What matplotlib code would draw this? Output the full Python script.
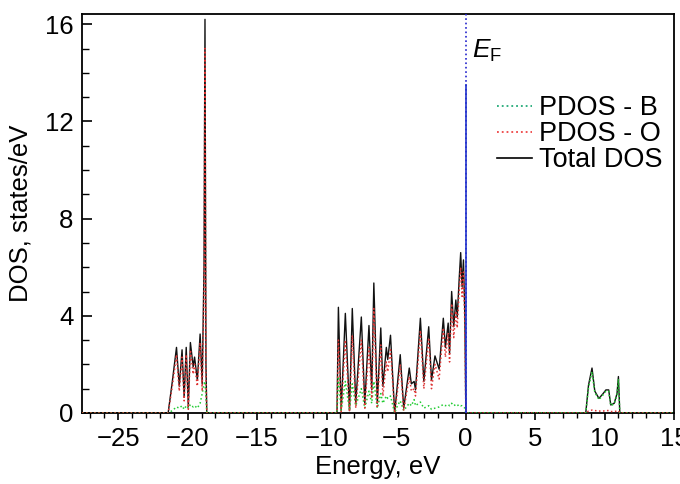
import numpy as np
import matplotlib
matplotlib.use('Agg')
import matplotlib.pyplot as plt

plt.rcParams['font.family'] = ['Liberation Sans', 'DejaVu Sans']
plt.rcParams['mathtext.fontset'] = 'custom'
plt.rcParams['mathtext.rm'] = 'Liberation Sans'
plt.rcParams['mathtext.it'] = 'Liberation Sans:italic'

# Band 1 (O 2s region)
e_band1 = [-21.4, -21.1, -20.8, -20.6, -20.4, -20.25, -20.1, -19.95, -19.8, -19.6,
           -19.5, -19.3, -19.1, -18.95, -18.82, -18.75, -18.68, -18.62]
tot_band1 = [0, 1.3, 2.7, 1.1, 2.6, 0.65, 2.7, 0.25, 2.9, 1.9,
             2.3, 1.35, 3.25, 1.2, 6.0, 16.2, 2.0, 0]
o_band1 = [0, 1.1, 2.4, 0.9, 2.3, 0.5, 2.4, 0.15, 2.6, 1.6,
           2.0, 1.1, 2.9, 0.9, 5.0, 15.0, 1.5, 0]
b_band1 = [0, 0.1, 0.25, 0.2, 0.3, 0.15, 0.3, 0.2, 0.35, 0.25,
           0.3, 0.2, 0.4, 0.8, 1.2, 1.3, 0.6, 0]

# Band 2 (valence band up to E_F)
e_band2 = [-9.25, -9.15, -8.95, -8.65, -8.35, -8.15, -7.9, -7.5, -7.25, -6.95,
           -6.75, -6.6, -6.35, -6.1, -5.95, -5.7, -5.6, -5.4, -5.1, -4.9,
           -4.7, -4.45, -4.05, -3.9, -3.7, -3.6, -3.25, -3.0, -2.65, -2.45,
           -2.2, -1.9, -1.6, -1.45, -1.25, -1.15, -1.0, -0.85, -0.7, -0.6,
           -0.45, -0.35, -0.25, -0.15, -0.05, 0.02]
tot_band2 = [0, 4.35, 0.1, 4.1, 0.1, 4.3, 0.4, 3.95, 0.4, 3.6,
             0.95, 5.35, 0.4, 3.5, 1.1, 2.7, 2.2, 3.2, 0, 1.2,
             2.4, 0.2, 1.85, 1.2, 1.3, 0.95, 3.9, 1.3, 3.55, 1.35,
             2.35, 1.8, 3.9, 2.7, 3.7, 2.45, 5.0, 3.55, 4.65, 3.95,
             5.6, 6.6, 5.2, 6.3, 4.0, 0]
o_band2 = [0, 3.0, 0.05, 3.0, 0.05, 3.2, 0.2, 3.0, 0.2, 2.7,
           0.6, 4.3, 0.2, 2.8, 0.7, 2.1, 1.7, 2.6, 0, 0.9,
           2.0, 0.1, 1.5, 0.9, 1.0, 0.7, 3.4, 1.0, 3.1, 1.0,
           2.0, 1.4, 3.5, 2.3, 3.3, 2.1, 4.5, 3.1, 4.2, 3.5,
           5.1, 6.0, 4.8, 5.8, 3.6, 0]
b_band2 = [0, 1.5, 0.1, 1.3, 0.1, 1.2, 0.3, 1.0, 0.2, 0.9,
           0.4, 1.3, 0.2, 0.8, 0.4, 0.7, 0.6, 0.7, 0, 0.3,
           0.5, 0.1, 0.4, 0.3, 0.55, 0.3, 0.45, 0.2, 0.3, 0.15,
           0.2, 0.25, 0.35, 0.3, 0.35, 0.3, 0.4, 0.3, 0.35, 0.3,
           0.35, 0.3, 0.3, 0.25, 0.2, 0]

# Band 3 (conduction band)
e_band3 = [8.65, 8.85, 9.1, 9.3, 9.6, 9.9, 10.1, 10.3, 10.45, 10.7, 10.9, 11.0, 11.1]
tot_band3 = [0, 1.15, 1.85, 0.9, 0.6, 0.8, 0.95, 0.95, 0.33, 0.4, 0.8, 1.5, 0]
o_band3 = [0, 0.08, 0.12, 0.1, 0.08, 0.08, 0.1, 0.1, 0.06, 0.06, 0.08, 0.1, 0]
b_band3 = [0, 1.05, 1.7, 0.85, 0.55, 0.75, 0.9, 0.9, 0.3, 0.38, 0.75, 1.4, 0]

e_limits = [-27.6, 15.0]
fermi_peak = 13.5


def full_curve(b1, b2, b3):
    e = [e_limits[0]] + e_band1 + e_band2 + e_band3 + [e_limits[1]]
    d = [0] + b1 + b2 + b3 + [0]
    return np.array(e), np.array(d)


fig = plt.figure(figsize=(6.8, 4.84), dpi=100)
ax = fig.add_axes([82 / 680, 71 / 484, 592 / 680, 399 / 484])

e, tot = full_curve(tot_band1, tot_band2, tot_band3)
_, pdos_o = full_curve(o_band1, o_band2, o_band3)
_, pdos_b = full_curve(b_band1, b_band2, b_band3)

ax.plot(e, pdos_b, color='#22cc33', ls=':', lw=1.1, zorder=3)
ax.plot(e, pdos_o, color='#dd3333', ls=':', lw=1.1, zorder=3)
ax.plot(e, tot, color='#111111', lw=1.0, zorder=2)

# Fermi level
ax.axvline(0, color='#2222cc', ls=':', lw=1.2, zorder=4)
ax.plot([0, 0], [0, fermi_peak], color='#2233cc', lw=1.2, zorder=4)
ax.text(0.5, 14.9, r'$E_\mathrm{F}$', fontsize=19, va='center', ha='left')

# legend proxies
hb, = ax.plot([], [], color='#22aa77', ls=':', lw=1.3, label='PDOS - B')
ho, = ax.plot([], [], color='#ee4444', ls=':', lw=1.3, label='PDOS - O')
ht, = ax.plot([], [], color='black', lw=1.2, label='Total DOS')
ax.legend(handles=[hb, ho, ht], loc='upper right', bbox_to_anchor=(0.98, 0.797),
          frameon=False, fontsize=19.5, handlelength=1.3, handletextpad=0.25,
          labelspacing=0.0, borderaxespad=0.0, borderpad=0.0)

ax.set_xlim(e_limits)
ax.set_ylim(0, 16.42)
ax.set_xticks(np.arange(-25, 16, 5))
ax.set_xticks(np.arange(-27, 16, 1), minor=True)
ax.set_yticks([0, 4, 8, 12, 16])
ax.set_yticks(np.arange(0, 17, 1), minor=True)
ax.tick_params(axis='x', which='major', direction='out', length=5, width=1.2,
               labelsize=18.5, pad=5)
ax.tick_params(axis='x', which='minor', direction='out', length=3.5, width=1)
ax.tick_params(axis='y', which='major', direction='in', length=7, width=1.2,
               labelsize=18.5, pad=6)
ax.tick_params(axis='y', which='minor', direction='in', length=5, width=1)
for s in ax.spines.values():
    s.set_linewidth(1.3)

ax.set_xlabel('Energy, eV', fontsize=18.5, labelpad=3)
ax.set_ylabel('DOS, states/eV', fontsize=18.5, labelpad=9)

fig.savefig('out.png', dpi=100)
